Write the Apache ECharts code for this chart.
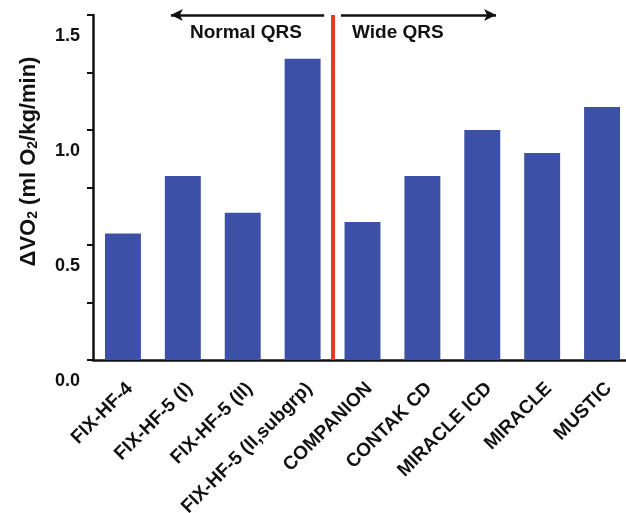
<!DOCTYPE html>
<html>
<head>
<meta charset="utf-8">
<script src="https://cdn.jsdelivr.net/npm/echarts@6/dist/echarts.min.js"></script>
<style>html,body{margin:0;padding:0;background:#fff}#c{width:626px;height:513px}</style>
</head>
<body>
<div id="c"></div>
<script>
const categories = ['FIX-HF-4', 'FIX-HF-5 (I)', 'FIX-HF-5 (II)', 'FIX-HF-5 (II,subgrp)', 'COMPANION', 'CONTAK CD', 'MIRACLE ICD', 'MIRACLE', 'MUSTIC'];
const values = [0.55, 0.80, 0.64, 1.31, 0.60, 0.80, 1.00, 0.90, 1.10];
const yTicks = [0, 0.5, 1.0, 1.5];
const dividerAt = 4;          // boundary between Normal QRS and Wide QRS groups
const normalArrow = [3.86, 1.30];
const wideArrow = [4.14, 6.73];
const groupLabels = ['Normal QRS', 'Wide QRS'];

const FONT = 'Liberation Sans, Arial, Helvetica, sans-serif';
const chart = echarts.init(document.getElementById('c'));
chart.setOption({
  animation: false,
  backgroundColor: '#fff',
  grid: { left: 93, right: -6, top: 15, bottom: 153, containLabel: false, outerBoundsMode: 'none' },
  xAxis: [{
    type: 'category', data: categories,
    axisLine: { lineStyle: { color: '#111', width: 2.5 } },
    axisTick: { alignWithLabel: true, length: 6, lineStyle: { color: '#111', width: 2 } },
    axisLabel: { interval: 0, rotate: 45, margin: 19, verticalAlign: 'top', color: '#111', fontFamily: FONT, fontWeight: 'bold', fontSize: 19 }
  }, {
    type: 'value', min: 0, max: categories.length, show: false
  }],
  yAxis: [{
    type: 'value', min: 0, max: 1.5, interval: 0.5, offset: 3,
    name: '{t|\u0394VO}{s|2}{t| (ml O}{s|2}{t|/kg/min)}',
    nameLocation: 'middle', nameRotate: 90, nameGap: 50,
    nameTextStyle: {
      padding: [0, 0, 0, 52],
      rich: {
        t: { fontFamily: FONT, fontWeight: 'bold', fontSize: 22, color: '#111', lineHeight: 30, verticalAlign: 'bottom' },
        s: { fontFamily: FONT, fontWeight: 'bold', fontSize: 14, color: '#111', lineHeight: 10, verticalAlign: 'bottom' }
      }
    },
    axisLine: { show: true, lineStyle: { color: '#111', width: 2.5 } },
    axisTick: { show: true, length: 6, lineStyle: { color: '#111', width: 2 } },
    minorTick: { show: true, splitNumber: 2, length: 6, lineStyle: { color: '#111', width: 2 } },
    splitLine: { show: false },
    axisLabel: {
      color: '#111', fontFamily: FONT, fontWeight: 'bold', fontSize: 18, margin: 10,
      verticalAlign: 'top', padding: [12, 0, 0, 0],
      formatter: v => yTicks.includes(v) ? v.toFixed(1) : ''
    }
  }],
  series: [{
    type: 'bar', data: values, barWidth: '60%',
    itemStyle: { color: '#3b50a6' }
  }, {
    type: 'line', xAxisIndex: 1, yAxisIndex: 0, data: [], symbol: 'none',
    markLine: {
      silent: true, animation: false,
      label: { show: false },
      data: [
        [{ coord: [dividerAt, 1.5], symbol: 'none', lineStyle: { color: '#e8372c', width: 4, type: 'solid' } },
         { coord: [dividerAt, 0], symbol: 'none' }],
        [{ coord: [normalArrow[0], 1.5], symbol: 'none', lineStyle: { color: '#111', width: 2.5, type: 'solid' } },
         { coord: [normalArrow[1], 1.5], symbol: 'arrow', symbolSize: [9, 12] }],
        [{ coord: [wideArrow[0], 1.5], symbol: 'none', lineStyle: { color: '#111', width: 2.5, type: 'solid' } },
         { coord: [wideArrow[1], 1.5], symbol: 'arrow', symbolSize: [9, 12] }]
      ]
    }
  }],
  graphic: [
    { type: 'text', left: 190, top: 23, style: { text: groupLabels[0], fill: '#111', font: 'bold 19px ' + FONT } },
    { type: 'text', left: 352, top: 23, style: { text: groupLabels[1], fill: '#111', font: 'bold 19px ' + FONT } }
  ]
});
</script>
</body>
</html>
